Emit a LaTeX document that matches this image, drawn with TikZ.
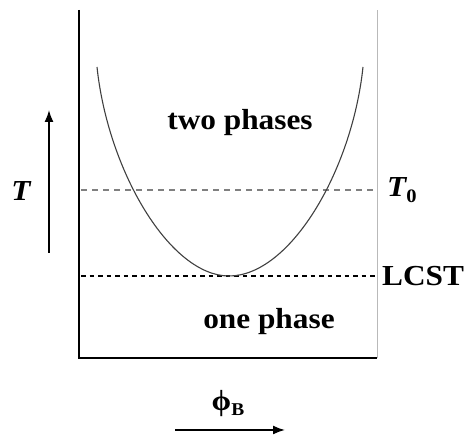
\documentclass[tikz,border=0pt]{standalone}
\usepackage{fontspec}
\setmainfont{Liberation Serif}[FakeStretch=1.08]
\usetikzlibrary{arrows.meta}

\tikzset{
    lbl/.style={font=\fontsize{29}{32}\selectfont\bfseries, inner sep=0pt},
    axisarrow/.style={line width=1.6pt, -{Latex[length=12pt, width=9pt]}},
}

\begin{document}
\begin{tikzpicture}[x=1pt, y=1pt]
    \useasboundingbox (0,0) rectangle (464,441);
    % frame
    \draw[black, line width=1.6pt] (79,431) -- (79,83) -- (377,83);
    \draw[gray!55, line width=1pt] (377,83) -- (377,431);
    % T0 and LCST lines
    \draw[gray, line width=1.1pt, dash pattern=on 6pt off 5pt] (81,251) -- (376,251);
    \draw[black, line width=2pt, dash pattern=on 4.5pt off 4pt] (81,165) -- (376,165);
    % coexistence curve
    \coordinate (ctop) at (97,374);
    \coordinate (cmin) at (229,165);
    \coordinate (ctopr) at (363,374);
    \draw[black!75, line width=1.1pt] (ctop) .. controls (108,270) and (170,165) .. (cmin)
        .. controls (290,165) and (352,270) .. (ctopr);
    % labels
    \node[lbl] (two) at (240,318) {two phases};
    \node[lbl] (one) at (269,119) {one phase};
    \node[lbl, anchor=west] (lcst) at (382,165) {LCST};
    \node[lbl, anchor=west] (tnull) at (387,251) {\itshape T\raisebox{-0.45ex}{\upshape\fontsize{19}{19}\selectfont 0}};
    \node[lbl] (temp) at (21,250) {\itshape T};
    \node[lbl] (phi) at (228,37) {ϕ\raisebox{-0.35ex}{\fontsize{18}{18}\selectfont B}};
    % arrows
    \coordinate (tlow) at (49,188);
    \coordinate (thigh) at (49,331);
    \coordinate (pleft) at (175,11);
    \coordinate (pright) at (285,11);
    \draw[axisarrow] (tlow) -- (thigh);
    \draw[axisarrow] (pleft) -- (pright);
\end{tikzpicture}
\end{document}
